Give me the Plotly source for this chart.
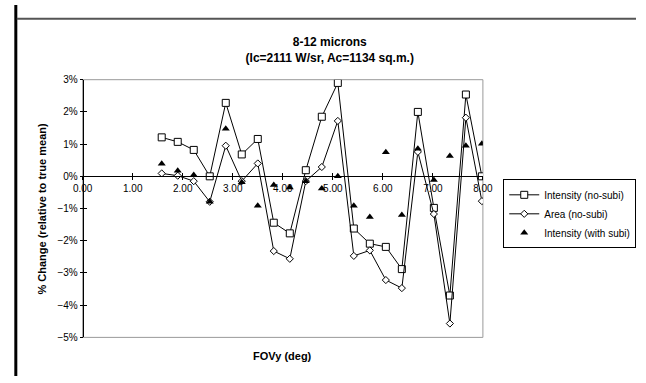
import plotly.graph_objects as go

# FOVy sample positions (deg)
fovy = [1.58, 1.90, 2.22, 2.54, 2.86, 3.18, 3.50, 3.82, 4.14, 4.46, 4.78,
        5.10, 5.42, 5.74, 6.06, 6.38, 6.70, 7.02, 7.34, 7.66, 7.98]

# % change relative to true mean
intensity_nosubi = [1.21, 1.07, 0.82, 0.00, 2.28, 0.68, 1.16, -1.44, -1.77, 0.19, 1.85,
                    2.90, -1.62, -2.09, -2.19, -2.88, 2.00, -0.98, -3.70, 2.54, 0.00]
area_nosubi = [0.09, 0.02, -0.15, -0.79, 0.95, -0.15, 0.40, -2.32, -2.56, -0.15, 0.29,
               1.72, -2.47, -2.30, -3.22, -3.47, 0.76, -1.17, -4.57, 1.82, -0.77]
intensity_subi = [0.39, 0.17, 0.04, -0.79, 1.48, -0.18, -0.91, -0.27, -0.35, -0.15, -0.38,
                  0.00, -0.91, -1.26, 0.75, -1.20, 0.86, -0.11, 0.63, 0.95, 1.01]

series_names = ["Intensity (no-subi)", "Area (no-subi)", "Intensity (with subi)"]
title_lines = ["8-12 microns", "(Ic=2111 W/sr, Ac=1134 sq.m.)"]
x_title = "FOVy (deg)"
y_title = "% Change (relative to true mean)"

W, H = 646, 383
FONT = "Arial, 'Liberation Sans', sans-serif"

# plot-area placement in pixels
px_left, px_right, px_top, px_bottom = 75, 488, 76.7, 341.3
xd = [px_left / W, px_right / W]
yd = [1 - px_bottom / H, 1 - px_top / H]
y_min, y_max = -5, 3
x_axis_pos = yd[0] + (0 - y_min) / (y_max - y_min) * (yd[1] - yd[0])

fig = go.Figure()

fig.add_trace(go.Scatter(
    x=fovy, y=intensity_nosubi, name=series_names[0], mode="lines+markers",
    line=dict(color="black", width=1),
    marker=dict(symbol="square", size=7, color="white", line=dict(color="black", width=1)),
))
fig.add_trace(go.Scatter(
    x=fovy, y=area_nosubi, name=series_names[1], mode="lines+markers",
    line=dict(color="black", width=1),
    marker=dict(symbol="diamond", size=5.5, color="white", line=dict(color="black", width=1)),
))
fig.add_trace(go.Scatter(
    x=fovy, y=intensity_subi, name=series_names[2], mode="markers",
    marker=dict(symbol="triangle-up", size=7, color="black", line=dict(color="black", width=0)),
))

# empty traces that bring up the overlay axes used for the inner half of the cross ticks
fig.add_trace(go.Scatter(x=[None], y=[None], xaxis="x2", yaxis="y", showlegend=False, hoverinfo="skip"))
fig.add_trace(go.Scatter(x=[None], y=[None], xaxis="x", yaxis="y2", showlegend=False, hoverinfo="skip"))

tick_font = dict(family=FONT, size=10, color="black")

fig.update_layout(
    width=W, height=H,
    margin=dict(l=0, r=0, t=0, b=0),
    paper_bgcolor="white", plot_bgcolor="white",
    font=dict(family=FONT, size=10, color="black"),
    showlegend=True,
    xaxis=dict(
        domain=xd, range=[0, 8], dtick=1, tick0=0, tickformat=".2f",
        anchor="free", position=x_axis_pos,
        showline=True, linecolor="black", linewidth=1,
        ticks="outside", ticklen=3, tickcolor="black", tickwidth=1,
        showgrid=False, zeroline=False, tickfont=tick_font,
    ),
    xaxis2=dict(
        domain=xd, range=[0, 8], dtick=1, tick0=0, overlaying="x",
        anchor="free", position=x_axis_pos,
        showline=False, ticks="inside", ticklen=3, tickcolor="black", tickwidth=1,
        showticklabels=False, showgrid=False, zeroline=False,
    ),
    yaxis=dict(
        domain=yd, range=[y_min, y_max], dtick=1, tick0=0, ticksuffix="%",
        anchor="free", position=xd[0],
        showline=True, linecolor="black", linewidth=1,
        ticks="outside", ticklen=3, tickcolor="black", tickwidth=1,
        showgrid=False, zeroline=False, tickfont=tick_font,
    ),
    yaxis2=dict(
        domain=yd, range=[y_min, y_max], dtick=1, tick0=0, overlaying="y",
        anchor="free", position=xd[0], side="left",
        showline=False, ticks="inside", ticklen=3, tickcolor="black", tickwidth=1,
        showticklabels=False, showgrid=False, zeroline=False,
    ),
    legend=dict(
        x=509 / W, y=1 - 179 / H, xanchor="left", yanchor="top",
        bgcolor="white", bordercolor="black", borderwidth=1,
        font=dict(family=FONT, size=10, color="black"),
        itemwidth=30, tracegroupgap=0,
    ),
    title=dict(
        text="<b>" + title_lines[0] + "</b><br><b>" + title_lines[1] + "</b>",
        x=330 / W, xanchor="center", xref="paper",
        y=1 - 42 / H, yanchor="middle", yref="paper",
        font=dict(family=FONT, size=12, color="black"),
    ),
    annotations=[
        dict(text="<b>" + x_title + "</b>", x=(xd[0] + xd[1]) / 2, y=1 - 360 / H,
             xref="paper", yref="paper", showarrow=False, xanchor="center", yanchor="middle",
             font=dict(family=FONT, size=11, color="black")),
        dict(text="<b>" + y_title + "</b>", x=33 / W, y=(yd[0] + yd[1]) / 2,
             xref="paper", yref="paper", showarrow=False, xanchor="center", yanchor="middle",
             textangle=-90, font=dict(family=FONT, size=11, color="black")),
    ],
    shapes=[
        # plot-area border
        dict(type="rect", xref="paper", yref="paper", x0=xd[0], x1=xd[1], y0=yd[0], y1=yd[1],
             line=dict(color="#999999", width=1), fillcolor="rgba(0,0,0,0)", layer="below"),
        # outer frame: left bar and top rule
        dict(type="line", xref="paper", yref="paper", x0=6 / W, x1=6 / W, y0=1 - 381 / H, y1=1,
             line=dict(color="black", width=3)),
        dict(type="line", xref="paper", yref="paper", x0=7 / W, x1=1, y0=1 - 14 / H, y1=1 - 14 / H,
             line=dict(color="#555555", width=2)),
    ],
)

fig.write_html("out.html")
